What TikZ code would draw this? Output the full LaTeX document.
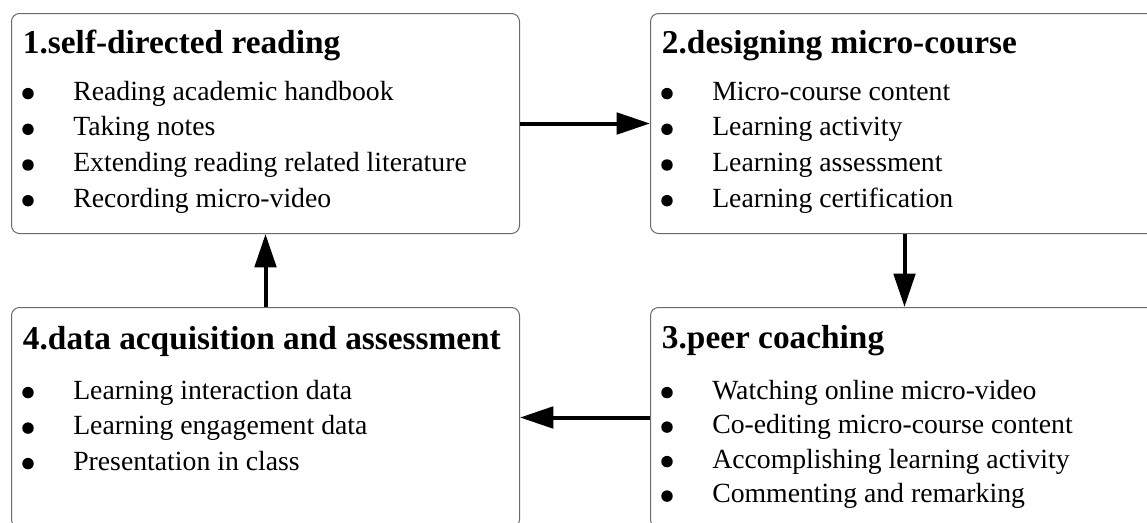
\documentclass[tikz,border=0pt]{standalone}
\usepackage{fontspec}
\setmainfont{Liberation Serif}
\usetikzlibrary{arrows.meta}

\definecolor{boxgray}{HTML}{6A6A6A}
\newcommand{\bul}{\makebox[38.25pt][l]{\tikz[baseline=0pt]\fill (4.3pt,4.8pt) circle (4.3pt);}}

\tikzset{
  stage/.style={draw=boxgray, line width=0.75pt, rounded corners=6pt,
    minimum width=381pt, minimum height=165pt, inner sep=0pt, anchor=north west},
  head/.style={font=\fontsize{25}{30}\selectfont\bfseries, inner sep=0pt, anchor=base west},
  item/.style={font=\fontsize{20.8}{25}\selectfont, inner sep=0pt, anchor=base west},
  flow/.style={-{Triangle[length=25pt,width=16pt]}, line width=3pt}
}

\begin{document}
\begin{tikzpicture}[x=0.75pt,y=-0.75pt]
  \useasboundingbox (0,0) rectangle (1147,522);

  \node[stage] (s1) at (11,13) {};
  \node[stage] (s2) at (650,13) {};
  \node[stage] (s3) at (650,307) {};
  \node[stage] (s4) at (11,307) {};

  \node[head] (h1) at ([shift={(11.7,40)}]s1.north west) {1.self-directed reading};
  \node[head] (h2) at ([shift={(11.7,40)}]s2.north west) {2.designing micro-course};
  \node[head] (h3) at ([shift={(11.7,41)}]s3.north west) {3.peer coaching};
  \node[head] (h4) at ([shift={(11.7,42)}]s4.north west) {4.data acquisition and assessment};

  \foreach \t [count=\i] in {Reading academic handbook, Taking notes,
      Extending reading related literature, Recording micro-video}
    \node[item] (a\i) at ([shift={(11,{87+35.7*(\i-1)})}]s1.north west) {\bul\t};

  \foreach \t [count=\i] in {Micro-course content, Learning activity,
      Learning assessment, Learning certification}
    \node[item] (b\i) at ([shift={(11,{87+35.7*(\i-1)})}]s2.north west) {\bul\t};

  \foreach \t [count=\i] in {Watching online micro-video, Co-editing micro-course content,
      Accomplishing learning activity, Commenting and remarking}
    \node[item] (c\i) at ([shift={(11,{92+34.5*(\i-1)})}]s3.north west) {\bul\t};

  \foreach \t [count=\i] in {Learning interaction data, Learning engagement data,
      Presentation in class}
    \node[item] (d\i) at ([shift={(11,{92+35.5*(\i-1)})}]s4.north west) {\bul\t};

  \draw[flow] (s1.east) -- (s2.west);
  \draw[flow] (s2.south) -- (s3.north);
  \draw[flow] (s3.west) -- (s4.east);
  \draw[flow] (s4.north) -- (s1.south);
\end{tikzpicture}
\end{document}
